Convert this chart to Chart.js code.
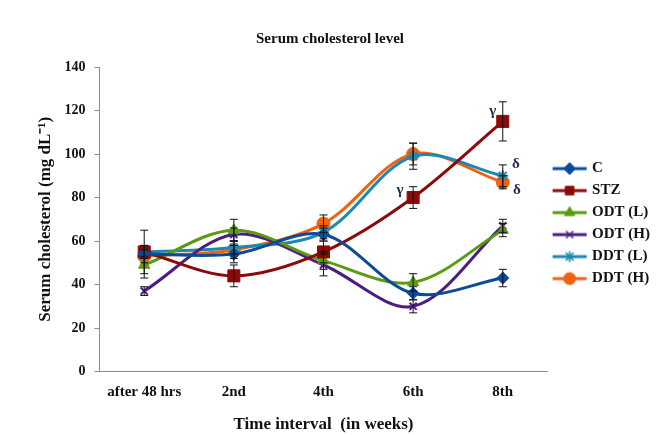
<!DOCTYPE html>
<html>
<head>
<meta charset="utf-8">
<script src="https://cdn.jsdelivr.net/npm/chart.js@4/dist/chart.umd.min.js"></script>
<style>
  html, body { margin: 0; padding: 0; background: #fff; }
  #wrap { width: 662px; height: 435px; position: relative; }
</style>
</head>
<body>
<div id="wrap"><canvas id="chart"></canvas></div>
<script>
const weeks = ["after 48 hrs", "2nd", "4th", "6th", "8th"];
const groupNames = ["C", "STZ", "ODT (L)", "ODT (H)", "DDT (L)", "DDT (H)"];

const cValues = [54, 54, 63, 36, 43];
const stzValues = [55, 44, 55, 80, 115];
const odtLValues = [49, 65, 51, 41, 65];
const odtHValues = [37, 63, 49, 30, 67];
const ddtLValues = [55, 57, 64, 99, 90];
const ddtHValues = [53, 56, 68, 100, 87];

const cErrors = [11, 4, 3, 3, 4];
const stzErrors = [3, 5, 5, 5, 9];
const odtLErrors = [4, 5, 4, 4, 3];
const odtHErrors = [2, 3, 5, 3, 3];
const ddtLErrors = [3, 3, 3, 6, 5];
const ddtHErrors = [3, 4, 4, 5, 3];

// significance letters: [dataset index, category index, text]
const marks = [[1, 3, "γ"], [1, 4, "γ"], [4, 4, "δ"], [5, 4, "δ"]];
const markOffsets = [[-13, -7], [-10, -10], [13, -12], [14, 8]];

const colors = ["#0d4a9a", "#8b0a0a", "#5b9a12", "#4a1f80", "#1e88b0", "#f0620f"];
const pointStyles = ["rectRot", "rect", "triangle", "crossRot", "star", "circle"];
const pointRadii = [6, 8.5, 6.5, 5, 5.5, 6.5];

const values = [cValues, stzValues, odtLValues, odtHValues, ddtLValues, ddtHValues];
const errors = [cErrors, stzErrors, odtLErrors, odtHErrors, ddtLErrors, ddtHErrors];

const serif = "'Liberation Serif', 'Times New Roman', serif";

function makeIcon(i) {
  const c = document.createElement("canvas");
  c.width = 36; c.height = 16;
  const ctx = c.getContext("2d");
  ctx.strokeStyle = colors[i];
  ctx.lineWidth = 3;
  ctx.beginPath(); ctx.moveTo(1, 8); ctx.lineTo(35, 8); ctx.stroke();
  ctx.fillStyle = colors[i];
  ctx.lineWidth = pointStyles[i] === "crossRot" || pointStyles[i] === "star" ? 1.5 : 1;
  Chart.helpers.drawPoint(ctx, { pointStyle: pointStyles[i], radius: Math.min(pointRadii[i], 6), rotation: 0, borderWidth: ctx.lineWidth }, 18, 8);
  return c;
}

const errorBars = {
  id: "errorBars",
  afterDatasetsDraw(chart) {
    const ctx = chart.ctx;
    const y = chart.scales.y;
    ctx.save();
    ctx.strokeStyle = "#111";
    ctx.lineWidth = 1;
    chart.data.datasets.forEach((ds, i) => {
      chart.getDatasetMeta(i).data.forEach((pt, j) => {
        const top = y.getPixelForValue(ds.data[j] + errors[i][j]);
        const bot = y.getPixelForValue(ds.data[j] - errors[i][j]);
        ctx.beginPath();
        ctx.moveTo(pt.x, top); ctx.lineTo(pt.x, bot);
        ctx.moveTo(pt.x - 4, top); ctx.lineTo(pt.x + 4, top);
        ctx.moveTo(pt.x - 4, bot); ctx.lineTo(pt.x + 4, bot);
        ctx.stroke();
      });
    });
    ctx.fillStyle = "#1c2b4d";
    ctx.font = "bold 15px " + serif;
    ctx.textAlign = "center";
    ctx.textBaseline = "middle";
    marks.forEach((m, k) => {
      const pt = chart.getDatasetMeta(m[0]).data[m[1]];
      ctx.fillText(m[2], pt.x + markOffsets[k][0], pt.y + markOffsets[k][1]);
    });
    ctx.restore();
  }
};

const datasets = values.map((v, i) => ({
  label: groupNames[i],
  data: v,
  borderColor: colors[i],
  backgroundColor: colors[i],
  borderWidth: 3,
  tension: 0.33,
  pointStyle: pointStyles[i],
  pointRadius: pointRadii[i],
  pointBorderWidth: pointStyles[i] === "crossRot" || pointStyles[i] === "star" ? 2 : 1,
  pointBackgroundColor: colors[i],
  pointBorderColor: colors[i]
}));

const icons = groupNames.map((n, i) => makeIcon(i));

new Chart(document.getElementById("chart"), {
  type: "line",
  data: { labels: weeks, datasets: datasets },
  options: {
    responsive: true,
    maintainAspectRatio: false,
    animation: false,
    layout: { padding: { left: 0, right: 2, top: 0, bottom: 0 } },
    scales: {
      x: {
        offset: true,
        grid: { display: false, drawTicks: false },
        border: { color: "#8c8c8c", width: 1 },
        ticks: { color: "#111", font: { family: serif, size: 15, weight: "bold" }, padding: 12, maxRotation: 0, minRotation: 0 },
        title: { display: true, text: "Time interval  (in weeks)", color: "#111", font: { family: serif, size: 17, weight: "bold" }, padding: { top: 1, bottom: 0 } }
      },
      y: {
        min: 0, max: 140,
        ticks: { stepSize: 20, color: "#111", font: { family: serif, size: 14, weight: "bold" }, padding: 9 },
        grid: { drawOnChartArea: false, tickLength: 5, color: "#8c8c8c" },
        border: { color: "#8c8c8c", width: 1 },
        title: { display: true, text: "Serum cholesterol (mg dL⁻¹)", color: "#111", font: { family: serif, size: 17, weight: "bold" }, padding: { top: 35, bottom: 0 } }
      }
    },
    plugins: {
      title: { display: true, text: "Serum cholesterol level", color: "#111", font: { family: serif, size: 15, weight: "bold" }, padding: { top: 30, bottom: 19 } },
      legend: {
        position: "right",
        title: { display: true, text: " ", font: { size: 1 }, padding: 5.5 },
        labels: {
          usePointStyle: true,
          pointStyleWidth: 30,
          boxHeight: 15,
          padding: 7,
          color: "#111",
          font: { family: serif, size: 15, weight: "bold" },
          generateLabels(chart) {
            const items = Chart.defaults.plugins.legend.labels.generateLabels(chart);
            items.forEach((it, i) => { it.pointStyle = icons[i]; });
            return items;
          }
        }
      },
      tooltip: { enabled: false }
    }
  },
  plugins: [errorBars]
});
</script>
</body>
</html>
